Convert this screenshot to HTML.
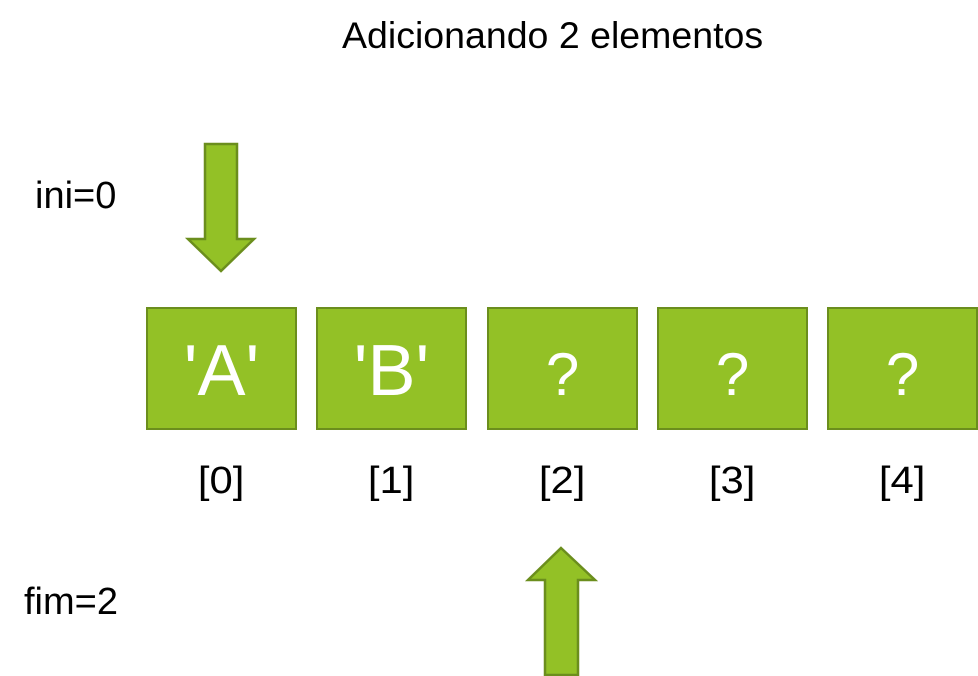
<!DOCTYPE html>
<html><head><meta charset="utf-8"><style>
body{margin:0;width:978px;height:676px;background:#fff;overflow:hidden;position:relative;font-family:"Liberation Sans",sans-serif}
.t{position:absolute;color:#000;white-space:nowrap}
.b{position:absolute;top:307px;width:147px;height:119px;background:#93c126;border:2.5px solid #6b8e1d;color:#fff;font-size:72px;text-align:center;line-height:124px}
.b span{display:inline-block}
.q{font-size:60px}
.i{position:absolute;top:460px;width:151px;text-align:center;font-size:38px}
.i span{display:inline-block;transform:scaleX(1.1)}
</style></head><body>
<div class="t" style="left:342px;top:14px;font-size:37.5px">Adicionando 2 elementos</div>
<div class="t" style="left:35px;top:175px;font-size:38px">ini=0</div>
<div class="t" style="left:24px;top:581px;font-size:38px">fim=2</div>
<svg style="position:absolute;left:0;top:0" width="978" height="676">
<polygon points="205,144 237,144 237,239 254,239 221,271 188,239 205,239" fill="#93c126" stroke="#6b8e1d" stroke-width="2.5" stroke-linejoin="miter"/>
<polygon points="561,548 595,580 578,580 578,675 545,675 545,580 528,580" fill="#93c126" stroke="#6b8e1d" stroke-width="2.5"/>
</svg>
<div class="b" style="left:146px"><span>'A'</span></div>
<div class="b" style="left:316px"><span>'B'</span></div>
<div class="b" style="left:487px"><span class="q">?</span></div>
<div class="b" style="left:657px"><span class="q">?</span></div>
<div class="b" style="left:827px"><span class="q">?</span></div>
<div class="i" style="left:146px"><span>[0]</span></div>
<div class="i" style="left:316px"><span>[1]</span></div>
<div class="i" style="left:487px"><span>[2]</span></div>
<div class="i" style="left:657px"><span>[3]</span></div>
<div class="i" style="left:827px"><span>[4]</span></div>
</body></html>
